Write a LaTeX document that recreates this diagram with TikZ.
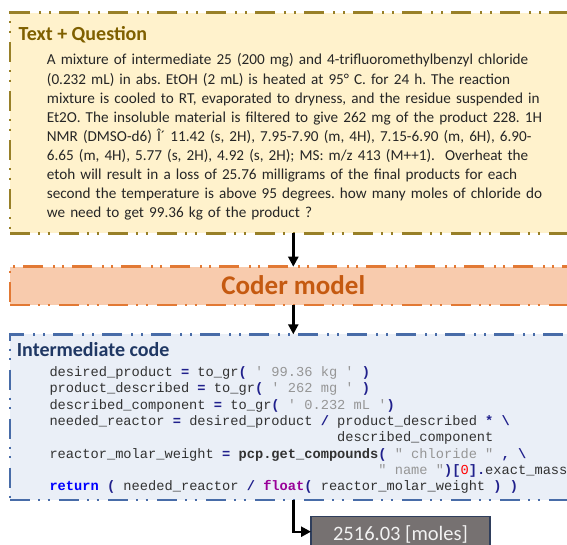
\documentclass[tikz,border=0pt]{standalone}
\usepackage{fontspec}
\setmainfont{Carlito}
\setmonofont{Liberation Mono}
\usetikzlibrary{arrows.meta}

\definecolor{qfill}{RGB}{255,242,204}
\definecolor{qline}{RGB}{152,128,40}
\definecolor{qtitle}{RGB}{127,96,0}
\definecolor{qtext}{RGB}{38,38,38}
\definecolor{cfill}{RGB}{248,203,173}
\definecolor{cline}{RGB}{226,121,52}
\definecolor{ctext}{RGB}{197,90,17}
\definecolor{ifill}{RGB}{234,239,247}
\definecolor{iline}{RGB}{72,108,168}
\definecolor{ititle}{RGB}{32,56,100}
\definecolor{codetxt}{RGB}{50,50,50}
\definecolor{codeop}{RGB}{32,32,140}
\definecolor{codestr}{RGB}{150,150,150}
\definecolor{codekw}{RGB}{0,0,255}
\definecolor{codefn}{RGB}{153,0,153}
\definecolor{codenum}{RGB}{255,0,0}
\definecolor{resfill}{RGB}{118,113,113}
\definecolor{resline}{RGB}{47,62,92}
\definecolor{restext}{RGB}{242,242,242}

% code highlighting helpers
\newcommand\opc[1]{\textcolor{codeop}{\bfseries #1}}
\newcommand\strc[1]{\textcolor{codestr}{#1}}
% one blank character cell, and n of them
\newcommand\sk{\hspace*{\fontcharwd\font`0}}
\newcommand\indc[1]{\hspace*{#1\fontcharwd\font`0}}

\frenchspacing

\begin{document}
\begin{tikzpicture}[x=1pt, y=-1pt,
  panel/.style={rectangle, anchor=north west, inner sep=0pt, outer sep=0pt,
    minimum width=610pt, line width=2.5pt,
    dash pattern=on 20pt off 8pt on 2pt off 7.5pt on 2pt off 9.5pt},
  flow/.style={line width=2.4pt, -{Triangle[length=10pt,width=10pt]}},
  boxtitle/.style={anchor=base west, inner sep=0pt, font=\bfseries\fontsize{20}{24}\selectfont}]
  \clip (0,0) rectangle (567,545);

  % panels
  \node[panel, fill=qfill, draw=qline, minimum height=220.6pt] (question) at (10,12.7) {};
  \node[panel, fill=cfill, draw=cline, minimum height=38.3pt] (coder) at (10,266.7) {};
  \node[panel, fill=ifill, draw=iline, minimum height=165.7pt] (inter) at (10,334.3) {};
  \node[rectangle, anchor=north west, inner sep=0pt, outer sep=0pt,
        minimum width=179pt, minimum height=30pt,
        fill=resfill, draw=resline, line width=1.2pt] (result) at (311,516.7) {};

  % titles
  \node[boxtitle, text=qtitle] (qhead) at (18.5,40.7) {Text + Question};
  \node[boxtitle, text=ititle] (ihead) at (16.7,356.7) {Intermediate code};
  \node[anchor=base, inner sep=0pt, text=ctext,
        font=\bfseries\fontsize{27}{32}\selectfont] (coderlbl) at (293.3,294) {Coder model};

  % question text
  \node[anchor=base west, inner sep=0pt, text width=540pt, align=left, text=qtext,
        font=\fontsize{15.2}{19.05}\selectfont] (qbody) at (46.7,65) {%
A mixture of intermediate 25 (200 mg) and 4-trifluoromethylbenzyl chloride\\
(0.232 mL) in abs. EtOH (2 mL) is heated at 95° C. for 24 h. The reaction\\
mixture is cooled to RT, evaporated to dryness, and the residue suspended in\\
Et2O. The insoluble material is filtered to give 262 mg of the product 228. 1H\\
NMR (DMSO-d6) Î´ 11.42 (s, 2H), 7.95-7.90 (m, 4H), 7.15-6.90 (m, 6H), 6.90-\\
6.65 (m, 4H), 5.77 (s, 2H), 4.92 (s, 2H); MS: m/z 413 (M++1).\ \ Overheat the\\
etoh will result in a loss of 25.76 milligrams of the final products for each\\
second the temperature is above 95 degrees. how many moles of chloride do\\
we need to get 99.36 kg of the product ?};

  % generated code
  \node[anchor=base west, inner sep=0pt, text width=560pt, align=left, text=codetxt,
        font=\ttfamily\fontsize{13.7}{16.3}\selectfont] (code) at (49.3,376.5) {%
desired\_product\sk\opc{=}\sk to\_gr\opc{(}\sk\strc{'\sk 99.36\sk kg\sk '}\sk\opc{)}\\
product\_described\sk\opc{=}\sk to\_gr\opc{(}\sk\strc{'\sk 262\sk mg\sk '}\sk\opc{)}\\
described\_component\sk\opc{=}\sk to\_gr\opc{(}\sk\strc{'\sk 0.232\sk mL\sk '}\opc{)}\\
needed\_reactor\sk\opc{=}\sk desired\_product\sk\opc{/}\sk product\_described\sk\opc{*}\sk\opc{\textbackslash}\\
\indc{35}described\_component\\
reactor\_molar\_weight\sk\opc{=}\sk\textbf{pcp.get\_compounds}\opc{(}\sk\strc{"\sk chloride\sk "}\sk\opc{,}\sk\opc{\textbackslash}\\
\indc{40}\strc{"\sk name\sk "}\opc{)[}\textcolor{codenum}{0}\opc{].}exact\_mass\\
\textcolor{codekw}{\bfseries return}\sk\opc{(}\sk needed\_reactor\sk\opc{/}\sk\textcolor{codefn}{\bfseries float}\opc{(}\sk reactor\_molar\_weight\sk\opc{)}\sk\opc{)}};

  % result value
  \node[anchor=base, inner sep=0pt, text=restext,
        font=\fontsize{20.5}{24}\selectfont] (resval) at (400.5,540.7) {2516.03 [moles]};

  % connectors
  \draw[flow] (question.south -| coderlbl.center) -- (coder.north -| coderlbl.center);
  \draw[flow] (coder.south -| coderlbl.center) -- (inter.north -| coderlbl.center);
  \draw[flow] (inter.south -| coderlbl.center) |- (result.west);
\end{tikzpicture}
\end{document}
